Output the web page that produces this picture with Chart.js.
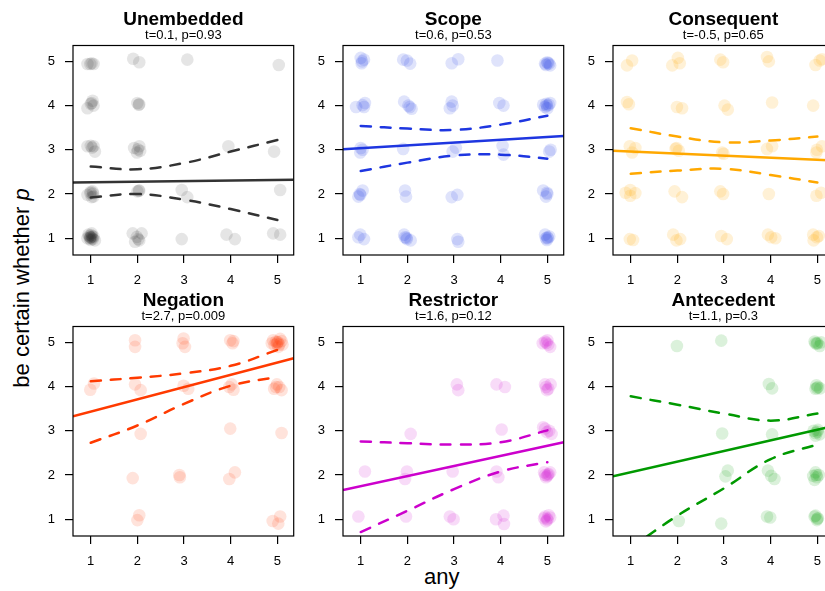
<!DOCTYPE html>
<html>
<head>
<meta charset="utf-8">
<script src="https://cdn.jsdelivr.net/npm/chart.js@4.4.1/dist/chart.umd.min.js"></script>
<style>
  body { margin: 0; background: #fff; overflow: hidden; }
  #wrap { position: relative; width: 825px; height: 591px; overflow: hidden; background: #fff; }
  #wrap canvas { position: absolute; }
  .lab {
    position: absolute;
    font-family: 'Liberation Sans', Arial, Helvetica, sans-serif;
    font-size: 22px; line-height: 22px; color: #000; white-space: nowrap;
    transform: translate(-50%, -50%);
  }
  #ylab { left: 22.4px; top: 288px; transform: translate(-50%, -50%) rotate(-90deg); }
  #xlab { left: 441.7px; top: 577.4px; }
</style>
</head>
<body>
<div id="wrap">
  <div class="lab" id="ylab">be certain whether <i>p</i></div>
  <div class="lab" id="xlab">any</div>
</div>
<script>
// panel labels
const panelTitles = ['Unembedded', 'Scope', 'Consequent', 'Negation', 'Restrictor', 'Antecedent'];
const panelStats = ['t=0.1, p=0.93', 't=0.6, p=0.53', 't=-0.5, p=0.65', 't=2.7, p=0.009', 't=1.6, p=0.12', 't=1.1, p=0.3'];
const tickValues = [1, 2, 3, 4, 5];

// axis limits (same on every panel)
const xLimits = [0.62, 5.35];
const yLimits = [0.62, 5.36];

// fitted line, read at the left and right edge of each panel
const unembeddedFit = [2.26, 2.32];
const scopeFit = [3.01, 3.31];
const consequentFit = [2.98, 2.76];
const negationFit = [3.33, 4.64];
const restrictorFit = [1.66, 2.74];
const antecedentFit = [1.97, 3.11];

// confidence band, read at x = 1..5
const bandX = [1, 2, 3, 4, 5];
const unembeddedUpper = [2.62, 2.56, 2.70, 2.96, 3.22];
const unembeddedLower = [1.92, 2.00, 1.87, 1.66, 1.41];
const scopeUpper = [3.54, 3.48, 3.45, 3.57, 3.77];
const scopeLower = [2.52, 2.71, 2.87, 2.89, 2.80];
const consequentUpper = [3.49, 3.30, 3.17, 3.21, 3.30];
const consequentLower = [2.46, 2.53, 2.57, 2.43, 2.26];
const negationUpper = [4.12, 4.20, 4.30, 4.47, 4.83];
const negationLower = [2.73, 3.12, 3.61, 4.02, 4.22];
const restrictorUpper = [2.76, 2.72, 2.69, 2.74, 3.01];
const restrictorLower = [0.71, 1.19, 1.68, 2.08, 2.29];
const antecedentUpper = [3.78, 3.59, 3.39, 3.23, 3.39];
const antecedentLower = [0.35, 1.08, 1.70, 2.36, 2.69];

// jittered responses [any, certain]
const unembeddedPts = [
  [0.93,4.94],[0.99,4.94],[1.06,4.94],[1.02,4.96],[1.91,5.06],[2.04,4.98],[3.07,5.04],[5.03,4.92],
  [0.93,3.94],[1.04,4.11],[1.06,4.00],[1.00,4.04],[1.02,4.06],[2.04,4.03],[2.00,4.06],[2.03,4.02],
  [0.93,3.08],[1.06,3.08],[1.09,2.96],[1.00,3.09],[1.03,3.05],[1.93,3.04],[2.04,3.08],[1.99,2.94],
  [2.06,2.98],[2.01,3.01],[3.95,3.08],[4.93,2.96],
  [0.93,1.98],[1.04,2.06],[1.06,1.94],[0.99,2.02],[1.02,1.93],[1.00,2.05],[1.05,2.01],
  [2.04,2.08],[2.00,2.06],[2.03,2.07],[2.95,2.09],[3.07,1.93],[5.06,2.09],
  [0.95,1.08],[1.06,1.04],[1.00,0.96],[1.09,0.95],[0.93,1.00],[1.02,1.11],[0.99,1.02],[1.03,1.00],
  [0.97,1.05],[1.05,0.98],[1.01,1.07],[0.98,0.99],[1.00,1.02],[1.03,1.04],
  [1.90,1.11],[2.09,1.11],[1.95,0.92],[2.02,0.98],[1.99,1.03],[2.04,0.95],
  [2.95,0.98],[3.91,1.08],[4.09,0.98],[4.91,1.11],[5.06,1.08]
];
const scopePts = [
  [1.00,5.08],[1.02,4.96],[1.07,5.04],[1.03,5.00],[1.91,5.04],[1.99,5.02],[2.06,4.95],
  [2.95,4.96],[3.09,5.05],[3.93,5.02],
  [4.97,4.92],[5.04,4.95],[5.00,4.98],[4.95,4.95],[5.06,4.91],[5.01,4.96],
  [0.90,3.97],[1.09,4.06],[1.07,3.97],[1.04,4.01],[1.93,4.09],[2.02,4.00],[2.09,3.93],[2.05,3.97],
  [2.95,4.09],[2.91,3.94],[2.97,4.00],[3.97,4.06],[4.06,4.00],
  [4.91,4.02],[4.99,4.00],[5.06,4.06],[5.00,3.94],[4.95,3.97],[5.03,4.02],[4.98,4.04],
  [1.00,3.04],[0.99,2.94],[1.04,3.00],[1.91,3.02],[2.97,2.96],[3.04,3.05],[4.04,3.09],[4.06,2.89],
  [5.07,3.00],[5.04,2.96],
  [0.99,1.98],[1.04,2.08],[0.95,1.94],[0.98,2.00],[1.95,2.08],[1.97,1.94],[2.95,1.93],[3.07,1.98],
  [4.91,2.08],[4.99,2.03],[4.97,1.94],[5.00,2.00],
  [0.99,1.08],[1.07,0.98],[0.95,1.02],[1.93,1.08],[1.99,0.98],[2.07,0.95],[1.95,1.02],[1.98,1.01],
  [3.07,0.98],[3.09,0.92],[4.95,1.08],[5.00,1.02],[4.99,0.96],[5.04,1.04],[4.97,1.00],[5.01,1.00]
];
const consequentPts = [
  [0.92,4.91],[1.03,5.02],[1.89,4.91],[2.01,5.08],[2.05,4.96],[2.92,5.04],[2.98,4.98],
  [3.92,5.10],[3.96,5.00],[4.96,4.92],[5.05,5.02],[5.10,5.05],
  [0.92,4.08],[0.96,4.03],[1.99,3.97],[2.10,3.94],[3.01,4.00],[3.08,3.91],[4.03,4.07],[4.91,4.00],
  [0.98,3.08],[1.03,2.94],[1.10,3.04],[1.98,3.04],[2.03,2.98],[1.96,3.02],[2.96,2.94],[2.99,2.91],
  [3.92,3.02],[4.03,3.08],[4.99,3.00],[4.98,2.94],[5.10,3.08],
  [0.89,2.03],[0.99,1.96],[1.10,2.02],[0.99,2.09],[1.94,2.06],[2.10,1.93],[2.92,2.06],[2.98,2.00],
  [3.96,2.00],[4.98,1.96],[5.08,2.03],
  [0.98,0.98],[1.05,0.96],[1.91,1.08],[1.98,0.95],[2.06,0.98],[2.94,1.05],[3.06,0.98],
  [3.94,1.08],[4.01,1.02],[4.10,1.00],[4.91,1.08],[4.99,1.02],[4.92,0.95],[5.03,1.05]
];
const negationPts = [
  [1.95,5.05],[1.95,4.90],[2.99,5.09],[2.97,4.98],[3.02,4.90],[3.99,5.05],[4.04,4.98],[4.06,5.03],
  [4.91,5.05],[5.00,5.00],[5.09,5.03],[4.94,4.94],[5.04,4.95],[4.97,5.02],[5.06,5.08],[4.88,4.98],
  [5.02,4.90],[5.11,4.95],[5.01,5.01],[4.99,4.97],
  [0.99,3.93],[1.07,4.07],[1.95,4.05],[2.07,3.92],[2.99,4.02],[3.09,3.95],
  [3.97,3.99],[4.06,3.93],[4.02,4.05],[4.99,4.05],[5.04,3.99],[5.09,3.92],[4.97,3.99],[4.93,3.95],
  [3.99,3.05],[2.07,2.93],[5.09,2.95],
  [1.90,1.93],[2.90,2.00],[2.91,1.95],[3.97,1.91],[4.09,2.06],
  [2.00,0.98],[2.04,1.09],[4.90,0.96],[5.02,0.90],[5.06,1.06]
];
const restrictorPts = [
  [4.90,4.98],[5.00,5.05],[5.06,4.90],[4.95,5.02],[5.02,4.95],[4.98,4.99],
  [3.06,4.05],[3.09,3.92],[3.91,4.05],[4.09,3.99],
  [4.95,4.05],[5.02,3.95],[5.07,4.05],[4.99,3.92],[4.97,3.99],
  [2.07,2.93],[4.02,3.03],[4.91,3.08],[5.04,3.00],[5.09,2.93],[4.99,2.97],[4.95,3.05],
  [1.09,2.08],[1.99,2.08],[1.95,1.91],[2.97,2.08],[3.91,2.08],[3.95,1.95],
  [4.95,2.00],[5.00,1.98],[5.06,2.06],[4.97,1.95],[5.03,2.02],[4.93,2.06],[5.01,2.01],
  [0.95,1.06],[1.97,1.06],[2.91,1.06],[2.99,1.00],[3.90,1.00],[4.06,1.08],[4.07,0.89],
  [4.95,1.06],[5.00,0.98],[5.06,1.04],[4.97,0.95],[5.03,1.09],[4.93,1.02],[5.00,1.01]
];
const antecedentPts = [
  [1.99,4.92],[2.94,5.04],[4.96,4.98],[5.05,4.92],[4.99,4.97],[4.94,5.02],[5.08,5.00],[5.00,4.99],
  [3.96,4.06],[4.03,3.96],[4.96,3.95],[5.01,3.99],[4.98,4.03],[5.06,3.96],[4.99,3.97],
  [2.96,2.94],[4.03,2.92],[4.96,2.95],[5.01,3.02],[4.96,2.89],[5.05,2.92],[4.92,3.00],[5.00,2.98],
  [3.03,1.97],[3.08,2.10],[3.94,2.10],[4.01,1.98],[4.08,1.91],
  [4.91,1.98],[4.99,1.95],[4.96,2.06],[5.03,2.00],[4.94,1.89],[4.98,2.00],
  [2.03,0.96],[2.94,0.90],[3.92,1.06],[3.99,1.04],
  [4.94,1.06],[5.01,1.02],[4.99,0.98],[4.96,1.08],[5.00,1.01]
];

// styles
const panelColors = ['#333333', '#1e36e0', '#ffa800', '#ff3a00', '#cc00cc', '#009900'];
const pointFills = ['rgba(0,0,0,0.1)', 'rgba(30,54,224,0.14)', 'rgba(255,168,0,0.16)',
                    'rgba(255,58,0,0.14)', 'rgba(204,0,204,0.14)', 'rgba(0,153,0,0.14)'];

const fits = [unembeddedFit, scopeFit, consequentFit, negationFit, restrictorFit, antecedentFit];
const uppers = [unembeddedUpper, scopeUpper, consequentUpper, negationUpper, restrictorUpper, antecedentUpper];
const lowers = [unembeddedLower, scopeLower, consequentLower, negationLower, restrictorLower, antecedentLower];
const points = [unembeddedPts, scopePts, consequentPts, negationPts, restrictorPts, antecedentPts];

Chart.defaults.font.family = "'Liberation Sans', Arial, Helvetica, sans-serif";
Chart.defaults.color = '#000';

// draws the full box round the plotting region
const frame = {
  id: 'frame',
  afterDatasetsDraw(chart) {
    const { ctx, chartArea: a } = chart;
    ctx.save();
    ctx.strokeStyle = '#000';
    ctx.lineWidth = 1.2;
    ctx.strokeRect(a.left, a.top, a.right - a.left, a.bottom - a.top);
    ctx.restore();
  }
};

function bandLine(ys, color) {
  return {
    type: 'line',
    data: bandX.map((x, k) => ({ x: x, y: ys[k] })),
    borderColor: color,
    borderWidth: 2.5,
    borderDash: [10, 10],
    borderCapStyle: 'round',
    tension: 0.4,
    pointRadius: 0,
    clip: 0,
    order: 1
  };
}

function axisOptions(limits, isX) {
  return {
    type: 'linear',
    min: limits[0],
    max: limits[1],
    afterBuildTicks: (s) => { s.ticks = tickValues.map(v => ({ value: v })); },
    afterFit: (s) => { if (isX) s.height = 45; else s.width = 73; },
    grid: { drawOnChartArea: false, drawTicks: true, tickLength: 8, color: '#000', lineWidth: 1.2 },
    border: { display: false },
    ticks: { color: '#000', font: { size: 13 }, padding: isX ? 10 : 10, autoSkip: false, maxRotation: 0 }
  };
}

const wrap = document.getElementById('wrap');
for (let i = 0; i < 6; i++) {
  const canvas = document.createElement('canvas');
  canvas.width = 300;
  canvas.height = 300;
  canvas.style.left = (i % 3) * 270 + 'px';
  canvas.style.top = Math.floor(i / 3) * 281 + 'px';
  wrap.appendChild(canvas);

  const color = panelColors[i];
  new Chart(canvas.getContext('2d'), {
    type: 'scatter',
    data: {
      datasets: [
        {
          type: 'line',
          data: xLimits.map((x, k) => ({ x: x, y: fits[i][k] })),
          borderColor: color,
          borderWidth: 2.5,
          pointRadius: 0,
          clip: 0,
          order: 1
        },
        bandLine(uppers[i], color),
        bandLine(lowers[i], color),
        {
          type: 'scatter',
          data: points[i].map(p => ({ x: p[0], y: p[1] })),
          backgroundColor: pointFills[i],
          borderWidth: 0,
          pointRadius: 6.3,
          pointHoverRadius: 6.3,
          clip: 0,
          order: 2
        }
      ]
    },
    options: {
      responsive: false,
      animation: false,
      events: [],
      layout: { padding: { left: 0, right: 6, top: 0, bottom: 0 } },
      plugins: {
        legend: { display: false },
        tooltip: { enabled: false },
        title: {
          display: true, text: panelTitles[i], fullSize: false, color: '#000',
          font: { size: 19, weight: 'bold', lineHeight: 1 },
          padding: { top: 10, bottom: 0 }
        },
        subtitle: {
          display: true, text: panelStats[i], fullSize: false, color: '#000',
          font: { size: 13, lineHeight: 1 },
          padding: { top: 0, bottom: 3.5 }
        }
      },
      scales: {
        x: axisOptions(xLimits, true),
        y: axisOptions(yLimits, false)
      }
    },
    plugins: [frame]
  });
}
</script>
</body>
</html>
